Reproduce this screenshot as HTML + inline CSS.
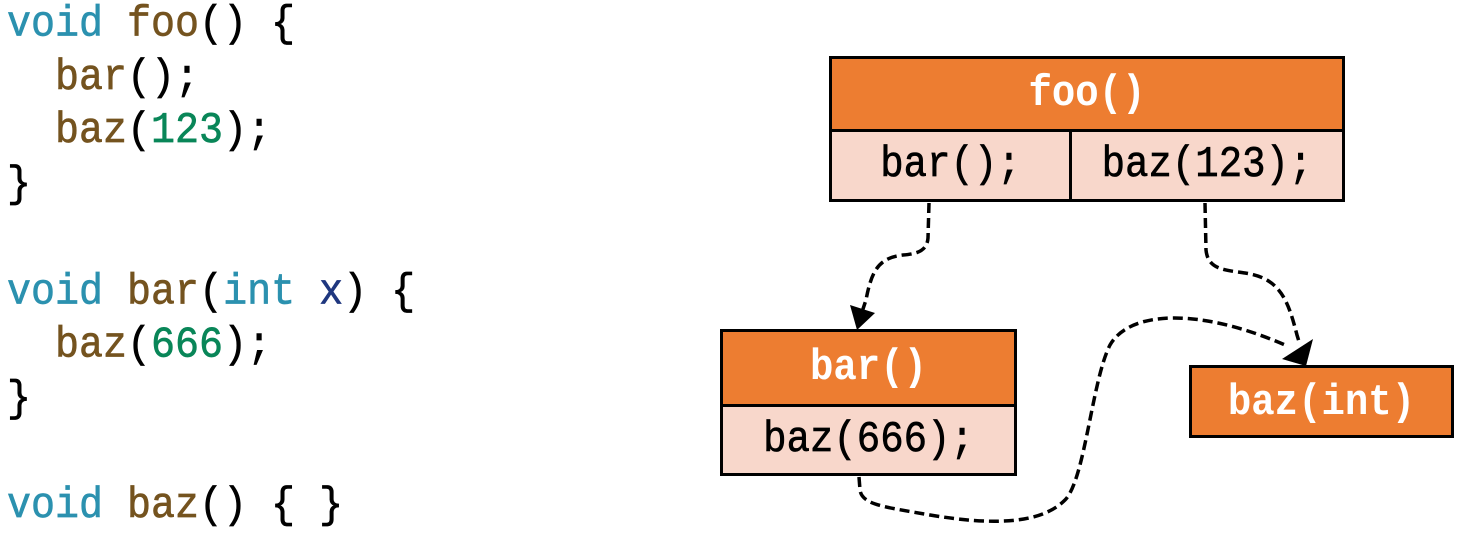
<!DOCTYPE html>
<html><head><style>
body{margin:0;width:1464px;height:533px;background:#fff;overflow:hidden;position:relative;font-family:"Liberation Mono",monospace}
.code{position:absolute;left:7px;top:-1px;font-size:40px;line-height:48.7px;white-space:pre;color:#000;transform:scaleY(1.1);transform-origin:0 0;-webkit-text-stroke:0.6px currentColor}
.k{color:#2B91AF}.f{color:#74531F}.n{color:#098658}.v{color:#1F377F}
.box{position:absolute;border:3px solid #000;box-sizing:border-box}
.hd{background:#ED7D31;color:#fff;font-weight:bold;text-align:center;font-size:39px}
.rw{background:#F8D7CB;color:#000;text-align:center;font-size:39px;-webkit-text-stroke:0.6px #000}
.t{display:inline-block;transform:scaleY(1.12)}
</style></head><body>
<div class="code"><span class="k">void</span> <span class="f">foo</span>() {
  <span class="f">bar</span>();
  <span class="f">baz</span>(<span class="n">123</span>);
}

<span class="k">void</span> <span class="f">bar</span>(<span class="k">int</span> <span class="v">x</span>) {
  <span class="f">baz</span>(<span class="n">666</span>);
}

<span class="k">void</span> <span class="f">baz</span>() { }</div>

<div class="box" style="left:829px;top:56px;width:516px;height:146px">
 <div class="hd" style="height:70px;line-height:70px;border-bottom:3px solid #000"><span class="t">foo()</span></div>
 <div style="display:flex;height:67px">
  <div class="rw" style="width:237px;line-height:67px;border-right:3px solid #000"><span class="t">bar();</span></div>
  <div class="rw" style="flex:1;line-height:67px"><span class="t">baz(123);</span></div>
 </div>
</div>
<div class="box" style="left:720px;top:329px;width:297px;height:147px">
 <div class="hd" style="height:72px;line-height:72px;border-bottom:3px solid #000"><span class="t">bar()</span></div>
 <div class="rw" style="height:66px;line-height:66px"><span class="t">baz(666);</span></div>
</div>
<div class="box hd" style="left:1189px;top:365px;width:265px;height:73px;line-height:70px"><span class="t">baz(int)</span></div>

<svg width="1464" height="533" style="position:absolute;left:0;top:0" fill="none" stroke="#000" stroke-width="3.5" stroke-dasharray="10,5">
<path d="M929 203 L928 238 C927 252 915 254 903 255 C880 258 872 268 866 300 L862 312"/>
<path d="M1205 203 L1206 250 C1208 270 1225 270 1245 273 C1280 278 1288 300 1297 335 L1300 345"/>
<path d="M859 477 L860 490 C862 505 885 507 930 515 C990 525 1040 525 1065 500 C1085 480 1092 380 1110 345 C1130 310 1200 308 1285 345"/>
</svg>
<svg width="1464" height="533" style="position:absolute;left:0;top:0">
<polygon points="850,305 875,313 857,330" fill="#000"/>
<polygon points="1313,339 1306,366 1282,359" fill="#000"/>
</svg>
</body></html>
